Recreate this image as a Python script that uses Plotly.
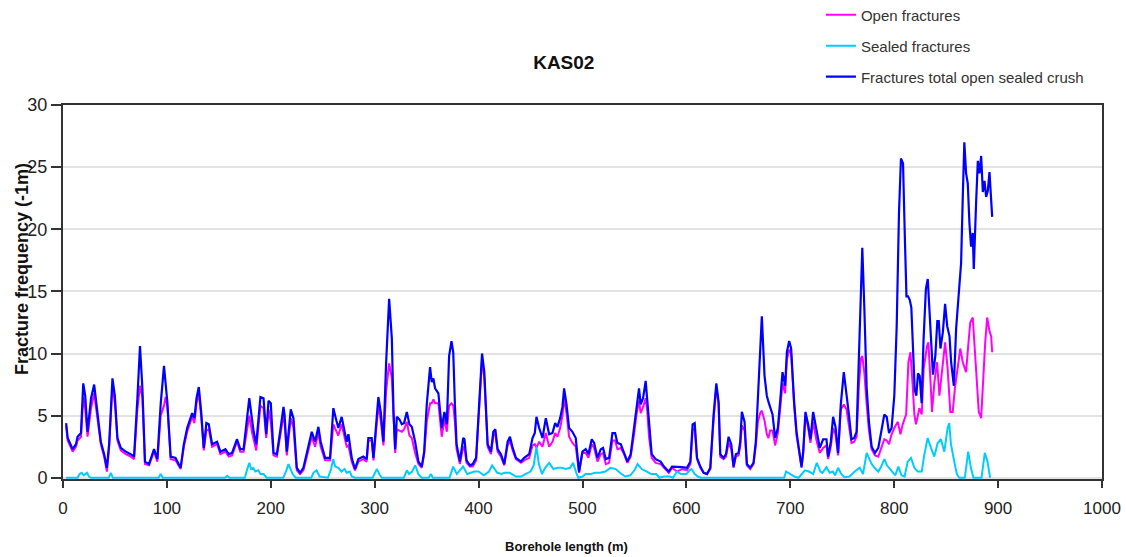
import plotly.graph_objects as go

# ---------------- data ----------------
depth_total = [3, 4.5, 9.3, 12.5, 14, 17.3, 19.5, 21.4, 23.6, 27, 30, 33, 36.4, 39.6, 42.2, 44.4, 47.6, 49.9, 52.4, 55.6,
               60.4, 65.2, 68.4, 71.6, 74.1, 76.4, 78.9, 82.8, 87.6, 90.8, 94, 97.2, 98.8, 100.4, 103.6, 108.3, 113.2,
               116.3, 119.5, 124.3, 126.5, 128.5, 130.7, 133, 135.5, 138, 140.3, 143.5, 148.3, 151.5, 156.3, 159.5,
               162.7, 167.5, 170.6, 173.8, 179.3, 181.8, 183.5, 186, 190, 193, 195.6, 197.8, 200, 202.6, 205.8, 209,
               212.2, 213.2, 215.4, 219.2, 221.8, 225, 228.2, 231.4, 235.2, 239.4, 242.6, 245.8, 248, 252.2, 257,
               260.2, 262.8, 265, 268.2, 271.4, 273, 274.7, 277.9, 281, 284.3, 289, 292.3, 293.9, 297.1, 298.8,
               301.3, 303.5, 305.8, 308.4, 311, 313.9, 316.5, 318.1, 319.7, 321.3, 323.8, 326.1, 328.3, 330.9,
               333.4, 335.7, 338.9, 342.1, 345.3, 347.6, 350.1, 353.3, 354.9, 356.5, 358.1, 361.3, 364.5, 367.1,
               369.4, 371.6, 373.9, 375.6, 377.2, 378.8, 382, 385.2, 386.4, 388.4, 391.6, 394.4, 397.6, 400.7,
               403.3, 405.5, 408.7, 411.9, 414.2, 416.1, 418.3, 421.5, 424.7, 427.9, 430.2, 432.8, 435.9, 440.7,
               443.9, 448.7, 451.9, 454.1, 455.7, 458.3, 461.5, 464.7, 467.9, 471.1, 473.7, 475.9, 478.5, 480.7,
               482.3, 484.6, 487.1, 490.3, 493.5, 496.7, 499.9, 503.1, 505.7, 508.9, 511.2, 514.4, 517.6, 519.8,
               522.4, 525.6, 528.8, 531.4, 533.6, 536.8, 540, 543.2, 546.4, 549.6, 551.8, 554.4, 556, 558.3, 560.8,
               562.4, 564, 566.6, 570.4, 575.2, 578.4, 581.6, 583, 586.2, 591, 595.8, 600.6, 603.8, 606, 608, 610.2,
               613.4, 616.6, 619.8, 623, 626.2, 628.8, 631, 632.6, 635.8, 638.1, 640.6, 643.2, 645.4, 647.6, 650.2,
               651.8, 653.4, 656, 658.2, 661.4, 664.6, 666.8, 668.8, 671, 672.6, 675.2, 677.4, 679, 680.6, 682.9,
               685.4, 688, 690.2, 692.5, 695, 696.7, 698.9, 700.8, 703.7, 706, 708.2, 710.8, 712.4, 714.6, 717.2,
               719.4, 722, 725.2, 728.4, 731.6, 734.8, 736.4, 739, 741.2, 743.5, 746, 748.6, 751.5, 754.1, 756.4,
               758.9, 761.5, 763.8, 766.1, 768, 769.3, 771.2, 773.5, 775.7, 778.3, 781.5, 784.7, 787.3, 790.5,
               792.8, 795, 797.5, 800.1, 802.4, 804.6, 806.5, 808.5, 810.2, 811.8, 813.3, 815, 816.5, 818, 819.7,
               821.3, 822.9, 824.5, 826.4, 828.2, 830.5, 832.3, 833.9, 835.5, 837.3, 839.6, 841.5, 842.9, 844.5,
               846.8, 849, 851, 853.2, 854.8, 857.4, 859.6, 861.2, 862.8, 864.4, 866, 867.5, 869.2, 870.8, 872.4,
               874, 875.6, 876.6, 878.9, 880.5, 882.1, 883.7, 885.3, 886.9, 888.5, 890.1, 891.7, 894.3]
total = [4.4, 3.2, 2.3, 2.7, 3.3, 3.6, 7.6, 6.6, 3.7, 6.4, 7.5, 5.3, 2.9, 1.9, 0.8, 2.7, 8.0, 6.6, 3.2, 2.4,
         2.1, 1.9, 1.7, 6.4, 10.6, 7.2, 1.3, 1.1, 2.3, 1.5, 5.9, 9.0, 7.4, 6.1, 1.7, 1.6, 0.8,
         2.7, 4.0, 5.2, 4.8, 6.4, 7.3, 5.3, 2.4, 4.4, 4.3, 2.7, 2.9, 2.1, 2.3, 1.9,
         2.0, 3.1, 2.3, 2.3, 6.4, 4.7, 3.7, 2.7, 6.5, 6.4, 3.5, 6.2, 6.0, 2.0, 1.9, 3.7,
         5.7, 5.1, 2.1, 5.5, 4.8, 0.8, 0.4, 0.8, 2.1, 3.7, 2.9, 4.1, 2.9, 1.6, 1.6,
         5.6, 4.7, 4.0, 4.9, 3.5, 2.9, 3.5, 1.6, 0.7, 1.5, 1.7, 1.5, 3.2, 3.2, 1.6,
         4.3, 6.5, 5.3, 2.9, 9.3, 14.4, 11.2, 5.3, 2.3, 4.9, 4.7, 4.3, 4.4, 5.3,
         4.3, 4.1, 2.9, 1.3, 0.9, 2.1, 5.9, 8.9, 7.7, 8.0, 7.2, 6.8, 4.0, 5.3,
         4.3, 9.8, 11.0, 10.1, 5.9, 2.7, 1.3, 3.2, 3.1, 1.4, 1.0, 1.1, 1.6, 6.6,
         10.0, 8.5, 2.7, 2.1, 3.7, 3.9, 2.3, 1.9, 1.1, 2.9, 3.3, 2.4, 1.6, 1.3,
         1.6, 1.9, 3.2, 3.6, 4.9, 4.0, 3.2, 4.8, 3.5, 3.6, 4.4, 4.1, 4.8, 5.7,
         7.2, 5.9, 4.0, 3.7, 3.2, 0.5, 2.1, 2.3, 1.9, 3.1, 2.8, 1.6, 2.3, 2.4,
         1.5, 1.6, 3.6, 3.6, 2.8, 2.7, 2.0, 1.3, 1.9, 4.0, 5.7, 7.2, 5.9, 6.4, 7.8,
         6.1, 4.0, 1.9, 1.5, 1.3, 0.9, 0.6, 0.5, 0.9, 0.9, 0.85, 0.8, 1.3, 4.3, 4.4, 1.6,
         0.9, 0.4, 0.3, 0.8, 5.1, 7.6, 6.1, 1.9, 1.6, 1.9, 3.3, 2.7, 0.9, 1.9, 2.0,
         2.9, 5.3, 4.5, 1.1, 0.8, 1.2, 2.9, 6.6, 10.9, 13.0, 8.2, 6.6, 6.1, 5.6, 5.1,
         3.2, 4.0, 6.1, 8.5, 7.4, 10.1, 11.0, 10.4, 6.1, 3.7, 2.4, 0.9, 2.1, 5.3, 4.3,
         3.1, 5.3, 4.0, 2.4, 3.1, 3.1, 1.7, 2.9, 4.9, 4.1, 2.0, 5.9, 8.5, 6.8, 5.1,
         3.1, 3.2, 3.7, 9.8, 15.2, 18.5, 13.8, 7.2, 4.5, 2.5, 2.0, 2.4, 3.6, 5.1,
         4.9, 3.6, 4.0, 6.6, 12.2, 21.3, 25.7, 25.3, 19.5, 14.6, 14.6, 14.3, 13.7, 10.3, 7.1,
         6.6, 8.4, 8.2, 6.0, 11.0, 15.2, 16.0, 13.5, 10.2, 8.3, 9.8, 12.6, 12.6, 10.4,
         11.7, 14.0, 12.2, 11.4, 9.3, 7.4, 12.0, 13.8, 16.2, 17.3, 22.6, 27.0, 24.5, 23.7, 20.5,
         18.6, 19.7, 16.8, 22.3, 25.5, 24.5, 25.9, 23.0, 23.9, 22.6, 23.1, 24.6, 21.0]

depth_open = depth_total[:depth_total.index(800.1) + 1] + [
    803.5, 806, 808.2, 811.5, 813.7, 815.6, 817.8, 819.4, 821, 822.6, 824.2, 826.5, 828.4, 831.6, 832.9,
    834.8, 836.4, 838.7, 841.3, 843.5, 846.8, 849, 851.4, 854, 856.3, 858.4, 861.2, 863.6, 866, 869.2,
    871.2, 873.2, 875.6, 877.9, 879.8, 881.4, 883.7, 885.3, 887.6, 889.5, 891.7, 893.3, 894.3]
open_fr = [4.2, 3.0, 2.1, 2.5, 3.0, 3.3, 6.5, 5.5, 3.3, 5.6, 6.8, 4.7, 2.7, 1.7, 0.5, 2.4, 7.4, 6.0, 3.0, 2.2,
           1.9, 1.7, 1.5, 5.5, 7.4, 6.5, 1.1, 1.0, 2.1, 1.3, 5.0, 5.8, 6.5, 5.8, 1.5, 1.4, 0.7,
           2.5, 3.7, 4.9, 4.4, 6.0, 6.8, 4.9, 2.2, 3.8, 3.9, 2.5, 2.7, 1.9, 2.1, 1.7,
           1.8, 2.9, 2.1, 2.1, 5.0, 3.7, 3.0, 2.2, 5.8, 5.6, 3.2, 5.5, 4.5, 1.8, 1.7, 3.4,
           5.0, 4.5, 1.8, 4.8, 4.0, 0.6, 0.3, 0.6, 1.8, 3.3, 2.5, 3.6, 2.5, 1.4, 1.4,
           4.3, 3.8, 3.4, 4.3, 2.9, 2.5, 2.6, 1.3, 0.6, 1.3, 1.5, 1.3, 3.0, 3.0, 1.4,
           3.6, 5.8, 4.6, 2.6, 7.0, 9.2, 8.0, 4.4, 2.0, 3.9, 3.8, 3.7, 3.9, 4.5,
           3.4, 3.2, 2.0, 1.1, 0.8, 1.9, 4.5, 6.0, 6.0, 6.3, 6.0, 6.0, 3.3, 4.7,
           3.7, 5.8, 6.0, 5.8, 4.5, 2.3, 1.1, 2.5, 2.4, 1.2, 0.9, 0.9, 1.4, 6.0,
           9.5, 8.0, 2.5, 1.9, 3.4, 3.5, 2.1, 1.7, 1.0, 2.6, 3.0, 2.2, 1.5, 1.2,
           1.4, 1.6, 2.6, 2.7, 2.4, 2.9, 2.5, 3.6, 2.5, 2.9, 3.6, 3.3, 4.0, 5.0,
           6.4, 5.2, 3.3, 2.8, 2.5, 0.4, 2.0, 2.0, 1.6, 2.7, 2.4, 1.3, 1.9, 2.0,
           1.1, 1.2, 3.0, 3.0, 2.3, 2.4, 1.9, 1.2, 1.7, 3.5, 5.0, 6.2, 5.2, 5.7, 6.4,
           5.3, 3.3, 1.6, 1.2, 1.1, 0.8, 0.5, 0.4, 0.8, 0.5, 0.7, 0.6, 1.1, 3.8, 4.0, 1.5,
           0.8, 0.4, 0.3, 0.7, 4.7, 7.3, 5.9, 1.7, 1.5, 1.7, 2.8, 2.3, 0.8, 1.7, 1.8,
           2.5, 4.2, 3.8, 1.0, 0.7, 1.1, 2.6, 4.5, 5.2, 5.4, 4.6, 3.5, 3.2, 3.8, 3.8,
           2.6, 3.6, 5.5, 7.6, 6.8, 9.5, 10.3, 10.0, 5.8, 3.4, 2.2, 0.8, 1.9, 5.0, 4.0,
           2.8, 4.5, 3.0, 2.0, 2.4, 2.6, 1.5, 2.5, 4.0, 3.5, 1.8, 5.5, 5.9, 5.5, 4.2,
           2.8, 2.9, 3.3, 7.5, 9.6, 9.8, 8.5, 5.9, 3.8, 2.3, 1.8, 1.7, 2.3, 3.1,
           3.0, 2.7, 3.5, 4.0,
           4.5, 3.5, 4.3, 5.1, 9.3, 10.1, 7.4, 5.1, 4.3, 5.1, 5.6, 5.1, 8.8, 10.6, 10.9,
           8.0, 5.3, 7.7, 9.3, 6.6, 9.3, 10.9, 8.8, 5.3, 5.3, 7.2, 8.9, 10.4, 9.3, 8.5,
           10.6, 12.5, 12.9, 9.8, 7.2, 5.3, 4.8, 7.7, 10.9, 12.9, 11.8, 11.4, 10.1]

depth_sealed = [3, 14, 16, 18, 20, 23, 25, 27, 44, 46, 48, 92, 94, 96, 156, 158, 160, 175, 177, 179.3, 181, 183,
                185, 188, 190, 193, 196, 212, 215, 217, 219, 221, 224, 239, 241, 244, 247, 255, 258, 260, 262,
                265, 268, 271, 273, 276, 278, 281, 298, 300, 302, 305, 307, 328, 331, 333, 336, 339, 342, 345,
                352, 354, 356, 372, 375.5, 379, 385, 389, 393, 396, 400, 405, 410, 413, 418, 422, 425, 430, 436,
                441, 445, 450, 453, 455.7, 458, 461, 464, 468, 472, 476, 480, 484, 488, 491, 494, 496, 500, 503,
                508, 512, 517, 522, 527, 532, 536, 541, 546, 550, 553, 557, 562, 566, 571, 574, 578, 584, 587,
                591, 595, 600, 603, 605, 608, 611, 614, 694, 696, 700, 704, 708, 711, 714, 718, 722, 725.5, 729,
                731, 734.8, 738, 741, 743, 746, 749, 752, 757, 762, 766.8, 770, 773.5, 776, 778.3, 781, 784.7,
                787.5, 790.5, 793, 795.9, 798, 801, 804, 807, 810, 813, 816.2, 819.4, 822.6, 826.5, 829.1, 832.2,
                835.4, 838.6, 841.8, 845, 848.2, 851.4, 853, 854.6, 857.8, 860.3, 862.6, 868, 871.2, 873.8,
                876.3, 884, 887.2, 889.8, 892.3]
sealed = [0, 0, 0.3, 0.4, 0.2, 0.4, 0.1, 0, 0, 0.4, 0, 0, 0.3, 0, 0, 0.15, 0, 0, 0.6, 1.2, 0.7, 0.8,
          0.5, 0.6, 0.3, 0.3, 0, 0, 0.6, 1.1, 0.7, 0.3, 0, 0, 0.4, 0.6, 0.1, 0, 0.7, 1.5, 0.9,
          0.8, 0.5, 0.7, 0.4, 0.5, 0.1, 0, 0, 0.4, 0.7, 0.2, 0, 0, 0.6, 0.3, 0.5, 1.0, 0.3, 0,
          0, 0.3, 0, 0, 0.9, 0.3, 0.9, 0.3, 0.4, 0.5, 0.5, 0.2, 0.5, 1.0, 0.4, 0.3, 0.4, 0.4, 0.1,
          0.1, 0.3, 0.5, 1.0, 2.5, 1.1, 0.3, 0.8, 1.2, 0.7, 0.8, 0.8, 0.7, 0.8, 1.2, 0.4, 0, 0.1, 0.3,
          0.3, 0.4, 0.4, 0.5, 0.8, 0.7, 0.4, 0.1, 0.2, 0.6, 1.1, 0.7, 0.5, 0.3, 0.3, 0, 0.1, 0.1, 0,
          0.5, 0.3, 0.3, 0.6, 0.7, 0.3, 0.1, 0, 0, 0.5, 0.3, 0.1, 0, 0.3, 0.6, 0.5, 0.3, 1.2, 0.5,
          0.4, 0.85, 0.4, 0.5, 0.2, 0.8, 0.3, 0.05, 0.1, 0.5, 0.8, 0.3, 2.0, 1.5, 1.1, 0.8, 0.5,
          0.9, 1.5, 1.0, 0.7, 0.5, 0.2, 0.9, 0.2, 0.1, 1.3, 1.6, 0.8, 0.5, 0.5, 1.9, 3.2,
          2.4, 1.7, 2.8, 3.1, 2.1, 4.0, 4.4, 2.7, 1.3, 0.3, 0, 0, 2.1, 0.8,
          0, 0, 2.0, 1.3, 0]

x_ticks = [0, 100, 200, 300, 400, 500, 600, 700, 800, 900, 1000]
y_ticks = [0, 5, 10, 15, 20, 25, 30]

FONT = "Liberation Sans, Arial, sans-serif"

fig = go.Figure()
fig.add_trace(go.Scatter(x=depth_open, y=open_fr, mode="lines", name="Open fractures",
                         line=dict(color="#FF00FF", width=2), legendgroup="a"))
fig.add_trace(go.Scatter(x=depth_sealed, y=sealed, mode="lines", name="Sealed fractures",
                         line=dict(color="#00CCFF", width=2), legendgroup="b"))
fig.add_trace(go.Scatter(x=depth_total, y=total, mode="lines", name="Fractures total open sealed crush",
                         line=dict(color="#0000FF", width=2.2), legendgroup="c"))

fig.update_layout(
    width=1126, height=557,
    margin=dict(l=63, r=24, t=105, b=78, autoexpand=False),
    paper_bgcolor="white", plot_bgcolor="white",
    font=dict(family=FONT, color="#222222"),
    title=dict(text="<b>KAS02</b>", x=0.482, xref="paper", xanchor="center",
               y=1 - 62 / 557, yref="container", yanchor="middle",
               font=dict(size=19, color="#111111", family=FONT)),
    showlegend=True,
    legend=dict(x=0.7295, y=1.285, xanchor="left", yanchor="top", traceorder="grouped",
                tracegroupgap=8.5, font=dict(size=15, color="#333333", family=FONT),
                bgcolor="rgba(0,0,0,0)"),
    xaxis=dict(range=[0, 1000], tickvals=x_ticks, showgrid=False, zeroline=False,
               showline=True, linecolor="#333333", linewidth=2, mirror=True, automargin=False,
               ticks="outside", ticklen=7, tickcolor="#333333", tickwidth=1.5,
               tickfont=dict(size=17, color="#222222"), ticklabelstandoff=6),
    yaxis=dict(range=[-0.1, 30], tickvals=y_ticks, showgrid=True, gridcolor="#e3e3e3", gridwidth=1.5,
               zeroline=False, showline=True, linecolor="#333333", linewidth=2, mirror=True, automargin=False,
               ticks="outside", ticklen=10, tickcolor="#333333", tickwidth=1.5,
               tickfont=dict(size=18, color="#222222")),
    annotations=[
        dict(text="<b>Borehole length (m)</b>", xref="paper", yref="paper", x=0.485, y=(479 - 546) / 374,
             xanchor="center", yanchor="middle", showarrow=False, font=dict(size=13, color="#111111", family=FONT)),
        dict(text="<b>Fracture frequency (-1m)</b>", xref="paper", yref="paper", x=(22 - 63) / 1039,
             y=(479 - 269) / 374, xanchor="center", yanchor="middle", textangle=-90, showarrow=False,
             font=dict(size=18, color="#111111", family=FONT)),
    ],
)

fig.write_html("out.html", config={"displayModeBar": False},
               post_script="document.body.style.margin='0px';document.body.style.overflow='hidden';")
